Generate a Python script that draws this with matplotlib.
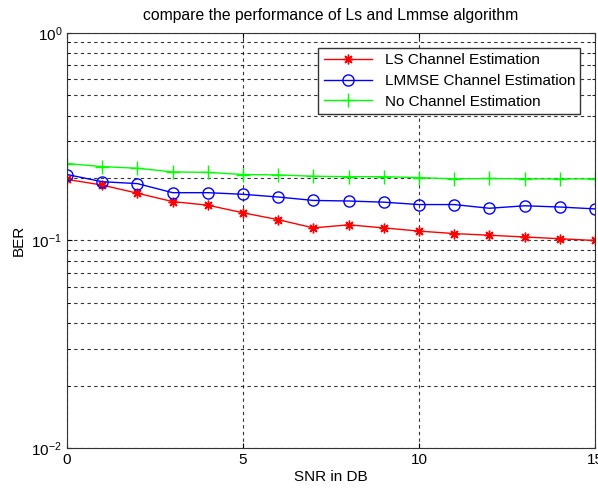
import matplotlib
matplotlib.use("Agg")
import matplotlib.pyplot as plt
from matplotlib.ticker import LogLocator, NullFormatter

plt.rcParams["font.family"] = ["Liberation Sans", "DejaVu Sans"]

snr_db = list(range(16))
ber_ls = [0.197, 0.185, 0.169, 0.154, 0.148, 0.136, 0.126, 0.115,
          0.119, 0.115, 0.111, 0.108, 0.106, 0.104, 0.102, 0.100]
ber_lmmse = [0.208, 0.192, 0.188, 0.170, 0.170, 0.167, 0.162, 0.156,
             0.155, 0.153, 0.149, 0.149, 0.143, 0.147, 0.145, 0.142]
ber_none = [0.235, 0.227, 0.223, 0.214, 0.213, 0.208, 0.207, 0.204,
            0.203, 0.203, 0.201, 0.198, 0.199, 0.198, 0.198, 0.198]

fig = plt.figure(figsize=(5.98, 4.90), dpi=100)
ax = fig.add_axes([67 / 598, 42 / 490, 528 / 598, 415 / 490])

# matlab-style asterisk marker
ax.semilogy(snr_db, ber_ls, color="red", marker=(8, 2, 0), markersize=7,
            markeredgewidth=1.0, linewidth=1, label="LS Channel Estimation")
ax.semilogy(snr_db, ber_lmmse, color="blue", marker="o", markersize=8,
            markerfacecolor="none", linewidth=1, label="LMMSE Channel Estimation")
ax.semilogy(snr_db, ber_none, color="#00ff00", marker="+", markersize=10,
            linewidth=1, label="No Channel Estimation")

ax.set_xlim(0, 15)
ax.set_ylim(1e-2, 1)
ax.set_xticks([0, 5, 10, 15])
ax.yaxis.set_major_locator(LogLocator(base=10, numticks=5))
ax.yaxis.set_minor_locator(LogLocator(base=10, subs=range(2, 10), numticks=20))
ax.yaxis.set_minor_formatter(NullFormatter())

grid_style = dict(color="black", linestyle=(0, (3, 3)), linewidth=0.8, alpha=0.8)
ax.grid(True, which="major", **grid_style)
ax.grid(True, which="minor", axis="y", **grid_style)

ax.tick_params(which="both", direction="in", top=True, right=True, labelsize=11)
ax.tick_params(which="minor", length=2)
for spine in ax.spines.values():
    spine.set_color("#333333")

ax.set_title("compare the performance of Ls and Lmmse algorithm", fontsize=11.3, pad=9)
ax.set_xlabel("SNR in DB", fontsize=11, labelpad=2)
ax.set_ylabel("BER", fontsize=11, labelpad=4)

leg = ax.legend(loc="upper right", fontsize=11, fancybox=False, framealpha=1,
                edgecolor="#333333", handlelength=3.2, borderpad=0.35,
                labelspacing=0.45, bbox_to_anchor=(0.987, 0.983))
leg.get_frame().set_linewidth(1)

fig.savefig("out.png", dpi=100)
